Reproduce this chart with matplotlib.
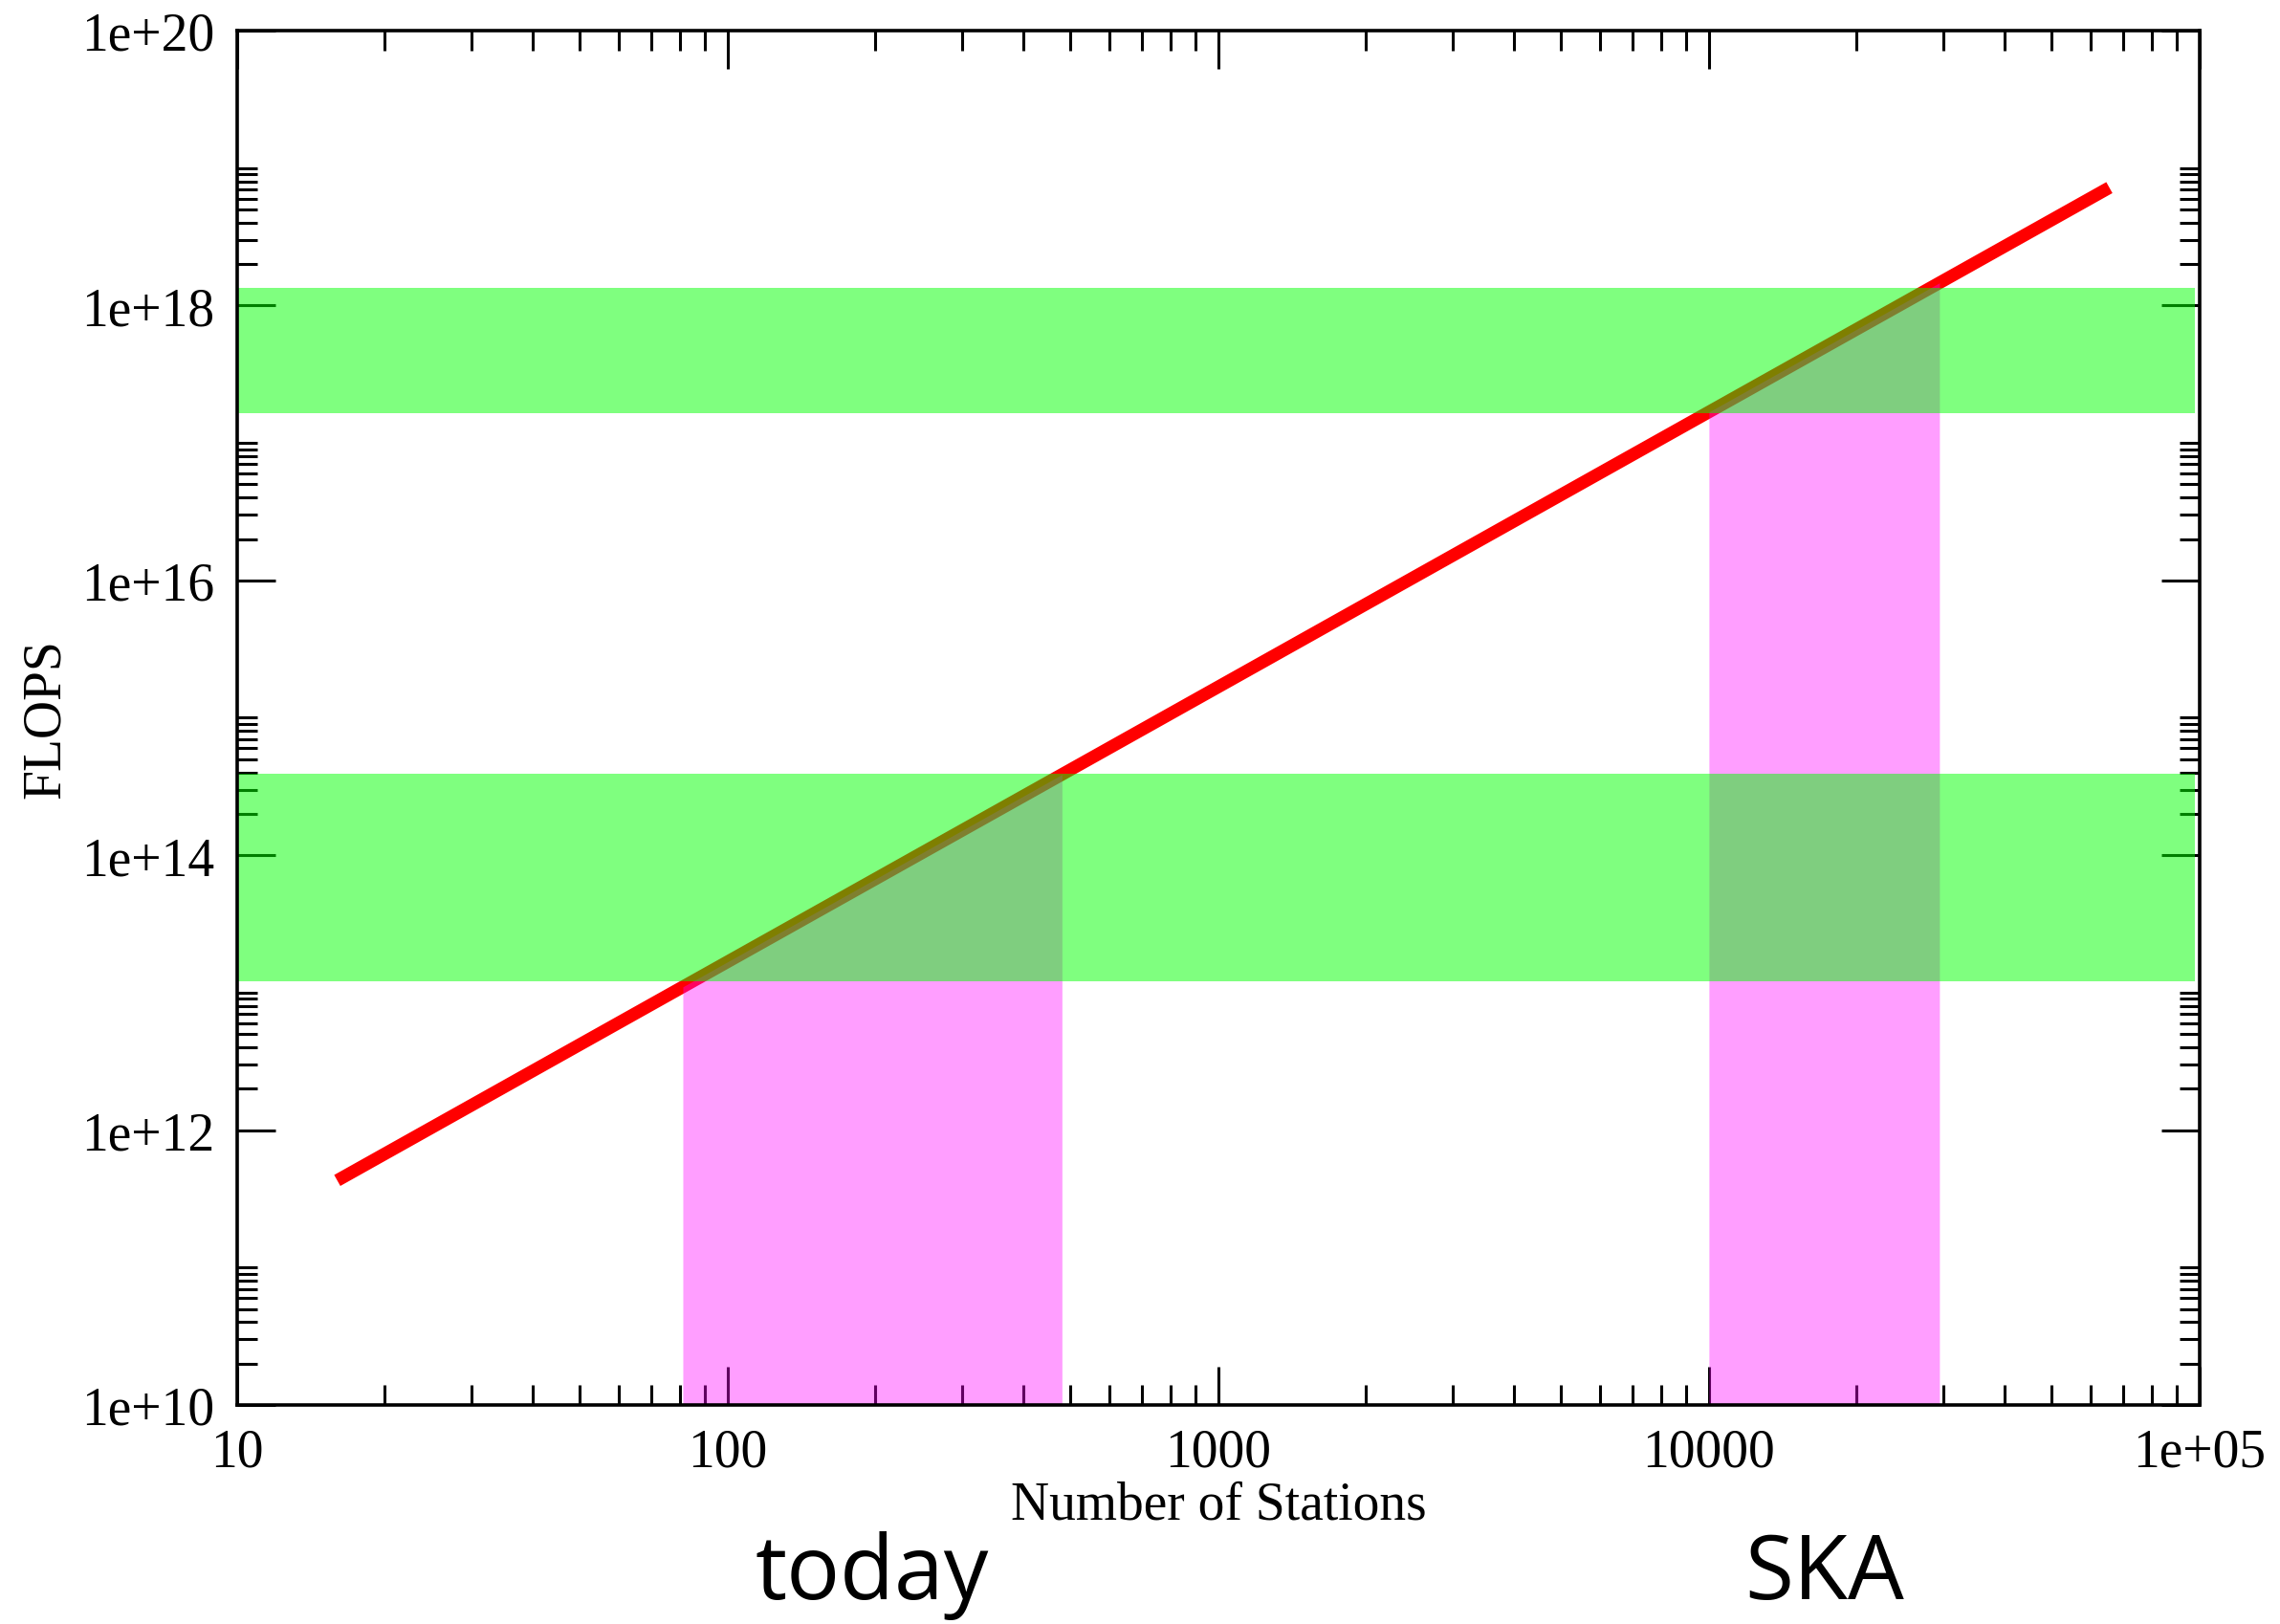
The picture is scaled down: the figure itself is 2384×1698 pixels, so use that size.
"""Correlator compute cost versus number of stations, with today's and SKA regimes."""

from matplotlib import pyplot as plt
from matplotlib import ticker, transforms
import numpy as np

# Compute cost line (straight in log-log, ~N^2), given by its two ends.
stations = [16, 65500]
flops = [4.3e11, 7.2e18]

# Horizontal bands of available compute (FLOPS ranges), spanning the whole x range.
computeBands = [(1.2e13, 3.9e14), (1.65e17, 1.35e18)]
computeBandStations = [10, 98000]

# Station-count ranges for the two regimes.
regimeNames = ["today", "SKA"]
regimeStations = [(81, 480), (10000, 29500)]

# Axis ticks and labels.
xMajor = [10, 100, 1000, 10000, 100000]
xLabels = ["10", "100", "1000", "10000", "1e+05"]
yMajor = [1e10, 1e12, 1e14, 1e16, 1e18, 1e20]
yLabels = ["1e+10", "1e+12", "1e+14", "1e+16", "1e+18", "1e+20"]


def lineValue(x):
    """FLOPS on the cost line at station count x (linear in log-log)."""
    return 10 ** np.interp(np.log10(x), np.log10(stations), np.log10(flops))


serif = "Liberation Serif"
fig = plt.figure(figsize=(23.84, 16.99), dpi=100)
ax = fig.add_axes([0.1040, 0.1348, 0.8607, 0.8458])
ax.set_xscale("log")
ax.set_yscale("log")
ax.set_xlim(10, 1e5)
ax.set_ylim(1e10, 1e20)

# The cost line sits underneath both sets of shaded regions.
ax.plot(stations, flops, color="red", linewidth=9.5, solid_capstyle="butt", zorder=1)

# Regime regions: filled from the bottom of the plot up to the cost line.
for lo, hi in regimeStations:
    xs = [lo, hi]
    ax.fill_between(xs, 1e10, lineValue(xs), color=(1.0, 0.0, 1.0), alpha=0.38,
                    linewidth=0, zorder=1.5)

for lo, hi in computeBands:
    ax.fill_between(computeBandStations, lo, hi, color=(0.0, 1.0, 0.0), alpha=0.5,
                    linewidth=0, zorder=2)

# Ticks point inwards on all four sides and are drawn beneath the shading.
ax.set_axisbelow(True)
ax.xaxis.set_major_locator(ticker.FixedLocator(xMajor))
ax.xaxis.set_major_formatter(ticker.FixedFormatter(xLabels))
ax.xaxis.set_minor_locator(ticker.LogLocator(base=10, subs=np.arange(2, 10)))
ax.xaxis.set_minor_formatter(ticker.NullFormatter())
yMinor = [k * 10.0 ** n for n in range(10, 20, 2) for k in range(2, 11)]
ax.yaxis.set_major_locator(ticker.FixedLocator(yMajor))
ax.yaxis.set_major_formatter(ticker.FixedFormatter(yLabels))
ax.yaxis.set_minor_locator(ticker.FixedLocator(yMinor))
ax.yaxis.set_minor_formatter(ticker.NullFormatter())
ax.tick_params(which="both", direction="in", top=True, right=True, width=2.2, color="black")
ax.tick_params(which="major", length=29, pad=17, labelsize=40)
ax.tick_params(which="minor", length=15)
for label in ax.get_xticklabels() + ax.get_yticklabels():
    label.set_family(serif)
for spine in ax.spines.values():
    spine.set_linewidth(2.6)
    spine.set_zorder(3)

ax.set_xlabel("Number of Stations", family=serif, fontsize=40, labelpad=2)
ax.set_ylabel("FLOPS", family=serif, fontsize=40, labelpad=8)

# Regime names underneath the axis, centred on each station range.
textTransform = transforms.blended_transform_factory(ax.transData, fig.transFigure)
for name, (lo, hi) in zip(regimeNames, regimeStations):
    ax.text(np.sqrt(lo * hi), 0.016, name, transform=textTransform, ha="center",
            va="baseline", fontsize=67, fontweight="medium", family="Open Sans")

fig.savefig("out.png", dpi=100)
